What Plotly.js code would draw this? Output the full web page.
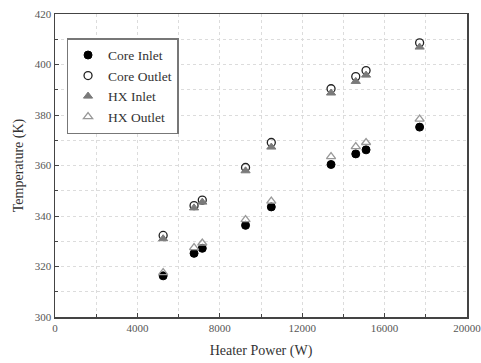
<!DOCTYPE html>
<html>
<head>
<meta charset="utf-8">
<script src="https://cdn.plot.ly/plotly-3.0.1.min.js"></script>
<style>html,body{margin:0;padding:0;background:#fff;}#chart{width:481px;height:363px;}</style>
</head>
<body>
<div id="chart"></div>
<script>
const heaterPower = [5250, 6750, 7150, 9250, 10500, 13400, 14600, 15100, 17700];
const coreInlet  = [316.3, 325.2, 327.2, 336.3, 343.6, 360.4, 364.6, 366.2, 375.2];
const coreOutlet = [332.3, 344.1, 346.3, 359.2, 369.1, 390.4, 395.2, 397.6, 408.6];
const hxInlet    = [331.0, 343.2, 345.5, 357.9, 367.3, 388.7, 393.3, 395.8, 406.9];
const hxOutlet   = [317.6, 327.5, 329.3, 338.6, 345.9, 363.5, 367.5, 369.1, 378.4];
const seriesNames = ["Core Inlet", "Core Outlet", "HX Inlet", "HX Outlet"];

const serif = "Liberation Serif";
const traces = [
  {x: heaterPower, y: coreInlet, name: seriesNames[0], mode: "markers", type: "scatter",
   marker: {symbol: "circle", size: 8, color: "#000", line: {color: "#000", width: 1}}},
  {x: heaterPower, y: coreOutlet, name: seriesNames[1], mode: "markers", type: "scatter",
   marker: {symbol: "circle-open", size: 8, color: "#222", line: {width: 1.3}}},
  {x: heaterPower, y: hxInlet, name: seriesNames[2], mode: "markers", type: "scatter",
   marker: {symbol: "triangle-up", size: 8, color: "#7a7a7a", line: {color: "#7a7a7a", width: 1}}},
  {x: heaterPower, y: hxOutlet, name: seriesNames[3], mode: "markers", type: "scatter",
   marker: {symbol: "triangle-up-open", size: 8, color: "#999", line: {width: 1.3}}}
];

const axisCommon = {
  showline: true, linecolor: "#444", linewidth: 1.5, mirror: true,
  ticks: "inside", ticklen: 4, tickcolor: "#444", tickwidth: 1,
  showgrid: true, gridcolor: "#dcdcdc", griddash: "dot", gridwidth: 1,
  zeroline: false, tickformat: "d", ticklabeloverflow: "allow",
  tickfont: {family: serif, size: 11, color: "#555"},
  minor: {ticks: "inside", ticklen: 3, tickcolor: "#444", showgrid: true, gridcolor: "#dcdcdc", griddash: "dot"}
};

const layout = {
  width: 481, height: 363,
  margin: {l: 55, r: 14, t: 14, b: 46},
  paper_bgcolor: "#fff", plot_bgcolor: "#fff",
  showlegend: true,
  font: {family: serif, color: "#333"},
  xaxis: Object.assign({}, axisCommon, {
    range: [0, 20000], tick0: 0, dtick: 4000,
    minor: Object.assign({}, axisCommon.minor, {dtick: 2000}),
    title: {text: "Heater Power (W)", font: {family: serif, size: 14, color: "#333"}, standoff: 12}
  }),
  yaxis: Object.assign({}, axisCommon, {
    range: [300, 420], tick0: 300, dtick: 20,
    minor: Object.assign({}, axisCommon.minor, {dtick: 10}),
    title: {text: "Temperature (K)", font: {family: serif, size: 14, color: "#333"}, standoff: 8}
  }),
  legend: {
    x: 0.028, y: 0.92, xanchor: "left", yanchor: "top",
    bgcolor: "#fff", bordercolor: "#777", borderwidth: 1.5,
    font: {family: serif, size: 13.5, color: "#333"},
    tracegroupgap: 0, itemwidth: 30
  }
};

Plotly.newPlot("chart", traces, layout, {displayModeBar: false, staticPlot: true});
</script>
</body>
</html>
